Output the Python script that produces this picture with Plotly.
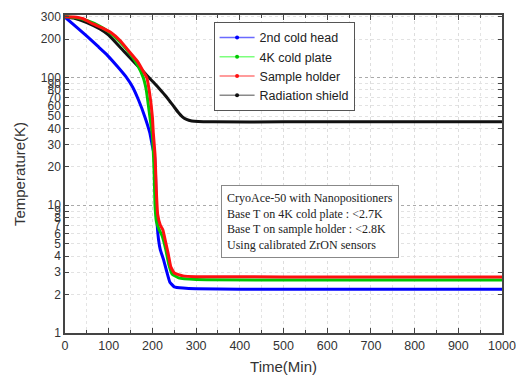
import plotly.graph_objects as go

# ---- data ----
t_blue = [0, 25, 50, 75, 95, 120, 141, 155, 168, 183, 194, 200, 205, 207, 209, 211, 214, 218, 225, 232, 240, 250, 270, 300, 400, 600, 800, 1000]
T_blue = [297, 251, 211, 176, 152, 122, 100, 84, 67, 49, 37, 29, 24, 18, 10, 7, 5.4, 4.5, 3.8, 3.1, 2.5, 2.3, 2.25, 2.22, 2.2, 2.2, 2.2, 2.2]

t_green = [0, 20, 50, 80, 100, 125, 150, 165, 179, 186, 194, 200, 204, 206, 209, 215, 222, 230, 238, 245, 260, 300, 500, 1000]
T_green = [300, 296, 280, 252, 228, 192, 152, 127, 100, 80, 50, 35, 18, 10, 7.5, 6.5, 5.8, 4.6, 3.4, 2.9, 2.7, 2.62, 2.6, 2.6]

t_red = [0, 20, 40, 64, 85, 105, 126, 145, 165, 187, 193, 200, 202, 206, 209, 212, 218, 224, 230, 236, 242, 250, 270, 300, 500, 1000]
T_red = [300, 298, 290, 263, 245, 225, 195, 163, 135, 100, 78, 49, 37, 25, 13, 8.5, 7, 6.4, 5.2, 4.2, 3.3, 2.95, 2.8, 2.76, 2.75, 2.75]

t_black = [0, 20, 50, 80, 100, 133, 160, 183, 192, 205, 217, 230, 240, 248, 258, 268, 278, 290, 305, 340, 500, 1000]
T_black = [300, 292, 270, 240, 215, 163, 130, 108, 100, 90, 81, 72, 65, 60, 54, 49.5, 47, 45.7, 45.2, 45, 45, 45]

names = ["2nd cold head", "4K cold plate", "Sample holder", "Radiation shield"]
y_tick_vals = [1, 2, 3, 4, 5, 6, 7, 8, 9, 10, 20, 30, 40, 50, 60, 70, 80, 90, 100, 200, 300]
y_tick_text = [str(v) for v in y_tick_vals]
x_tick_vals = list(range(0, 1001, 100))

note_lines = ["CryoAce-50 with Nanopositioners",
              "Base T on 4K cold plate : <2.7K",
              "Base T on sample holder : <2.8K",
              "Using calibrated ZrON sensors"]

series = [
    (t_blue, T_blue, "#0000ff", "#6a6aff"),
    (t_green, T_green, "#00c800", "#7dff7d"),
    (t_red, T_red, "#ff1010", "#ff7a7a"),
    (t_black, T_black, "#111111", "#8a8a8a"),
]

fig = go.Figure()
# draw order: black, blue, green, red (red on top like the reference)
order = [3, 0, 1, 2]
for i in order:
    tx, ty, c, _ = series[i]
    fig.add_trace(go.Scatter(x=tx, y=ty, mode="lines", line=dict(color=c, width=3, shape="spline", smoothing=0.35),
                             showlegend=False, legendgroup=names[i], hoverinfo="skip"))
for i in range(4):
    _, _, c, lc = series[i]
    fig.add_trace(go.Scatter(x=[None], y=[None], mode="lines+markers", name=names[i], legendgroup=names[i],
                             line=dict(color=lc, width=1.5), marker=dict(color=c, size=4)))

# invisible trace on a secondary axis for the darker decade grid lines
fig.add_trace(go.Scatter(x=[None], y=[None], xaxis="x", yaxis="y2", showlegend=False))

axis_common = dict(showline=True, linecolor="#444444", linewidth=1.5, mirror="ticks", ticks="inside",
                   tickcolor="#444444", automargin=False)

fig.update_layout(
    width=516, height=378,
    margin=dict(l=65, r=14, t=15, b=45),
    paper_bgcolor="white", plot_bgcolor="white",
    font=dict(family="Arial", color="#333333"),
    xaxis=dict(range=[0, 1000], tickvals=x_tick_vals, ticklen=5, **axis_common,
               tickfont=dict(family="Arial", size=12.5, color="#333333"), ticklabeloverflow="allow",
               showgrid=True, gridcolor="#dddddd", griddash="dot", gridwidth=1,
               minor=dict(dtick=50, ticks="inside", ticklen=3, tickcolor="#444444", showgrid=True,
                          gridcolor="#e4e4e4", griddash="dot"),
               title=dict(text="Time(Min)", font=dict(family="Arial", size=15, color="#333333"), standoff=10),
               zeroline=False),
    yaxis=dict(type="log", range=[0, 2.49], tickvals=y_tick_vals, ticktext=y_tick_text, ticklen=4, **axis_common,
               tickfont=dict(family="Arial", size=12, color="#333333"),
               showgrid=True, gridcolor="#e2e2e2", griddash="dot", gridwidth=1,
               title=dict(text="Temperature(K)", font=dict(family="Arial", size=15, color="#333333"), standoff=12),
               zeroline=False),
    yaxis2=dict(type="log", range=[0, 2.49], overlaying="y", tickvals=[10, 100], showticklabels=False,
                showgrid=True, gridcolor="#aaaaaa", griddash="dot", gridwidth=1, ticks="", showline=False,
                zeroline=False, automargin=False),
    legend=dict(x=0.34, y=0.978, xanchor="left", yanchor="top", bgcolor="white",
                bordercolor="#555555", borderwidth=1, font=dict(family="Arial", size=12.5, color="#222222"),
                tracegroupgap=0, itemwidth=35),
    annotations=[dict(x=0.561, y=0.352, xref="paper", yref="paper", xanchor="center", yanchor="middle",
                      text="<br>".join(note_lines), align="left", showarrow=False,
                      font=dict(family="Liberation Serif", size=12, color="#222222"),
                      bordercolor="#888888", borderwidth=1, borderpad=5, bgcolor="white")],
)

fig.write_html("out.html")
